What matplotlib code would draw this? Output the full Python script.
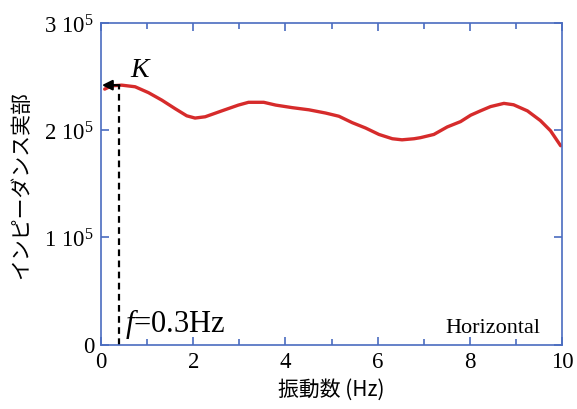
import numpy as np
import matplotlib.pyplot as plt
from matplotlib.ticker import MultipleLocator, FixedLocator

freq = [0.08, 0.23, 0.45, 0.74, 1.03, 1.32, 1.61, 1.86, 2.04, 2.26, 2.62, 2.98,
        3.20, 3.42, 3.53, 3.79, 4.15, 4.51, 4.87, 5.16, 5.45, 5.74, 6.03, 6.32,
        6.53, 6.79, 6.93, 7.22, 7.51, 7.80, 8.02, 8.23, 8.45, 8.74, 8.95, 9.25,
        9.53, 9.75, 9.97]
imp_real = [2.383e5, 2.414e5, 2.42e5, 2.405e5, 2.35e5, 2.28e5, 2.20e5, 2.134e5,
            2.113e5, 2.125e5, 2.18e5, 2.234e5, 2.26e5, 2.26e5, 2.26e5, 2.234e5,
            2.21e5, 2.19e5, 2.16e5, 2.13e5, 2.07e5, 2.02e5, 1.96e5, 1.92e5,
            1.91e5, 1.92e5, 1.93e5, 1.96e5, 2.03e5, 2.08e5, 2.14e5, 2.18e5,
            2.22e5, 2.25e5, 2.237e5, 2.18e5, 2.09e5, 1.995e5, 1.855e5]
f_mark = 0.38
k_val = 2.42e5
y_ticks = [0, 1e5, 2e5, 3e5]
y_labels = ["0", r"1 10$^5$", r"2 10$^5$", r"3 10$^5$"]

axis_col = "#4a6cc0"
serif = "Liberation Serif"
cjk = ["Noto Sans CJK JP", "DejaVu Sans"]
plt.rcParams["mathtext.fontset"] = "custom"
plt.rcParams["mathtext.rm"] = serif
plt.rcParams["mathtext.it"] = serif + ":italic"

fig = plt.figure(figsize=(5.77, 4.10), dpi=100)
ax = fig.add_axes([101 / 577, 1 - 345.5 / 410, 461 / 577, 321.5 / 410])

ax.plot(freq, imp_real, color="#d62b2b", lw=2.4, solid_capstyle="round",
        solid_joinstyle="round")

# dashed marker at f and arrow to the axis
ax.plot([f_mark, f_mark], [0, k_val], color="black", ls=(0, (3, 2)), lw=1.6)
ax.annotate("", xy=(0.02, k_val), xytext=(f_mark + 0.02, k_val),
            arrowprops=dict(arrowstyle="-|>", color="black", lw=1.6,
                            mutation_scale=15, shrinkA=0, shrinkB=0))
ax.text(0.64, 2.51e5, "K", fontsize=20, family=serif, style="italic")
ax.text(0.53, 0.13e5, r"$\mathit{f}$=0.3Hz", fontsize=22, family=serif)
ax.text(9.53, 0.12e5, "Horizontal", fontsize=16, family=serif, ha="right")

ax.set_xlim(0, 10)
ax.set_ylim(0, 3e5)
ax.xaxis.set_major_locator(MultipleLocator(2))
ax.xaxis.set_minor_locator(MultipleLocator(1))
ax.yaxis.set_major_locator(FixedLocator(y_ticks))
ax.set_yticklabels(y_labels)

for sp in ax.spines.values():
    sp.set_color(axis_col)
    sp.set_linewidth(1.2)
ax.tick_params(which="both", direction="in", top=True, right=True,
               color=axis_col, width=1.2, labelsize=16.5)
ax.tick_params(which="major", length=6, pad=5)
ax.tick_params(which="minor", length=4)
for lab in ax.get_xticklabels() + ax.get_yticklabels():
    lab.set_family(serif)

ax.set_xlabel("振動数 (Hz)", family=cjk, fontsize=15, labelpad=4)
ax.set_ylabel("インピーダンス実部", family=cjk, fontsize=15, labelpad=9)

fig.savefig("out.png", dpi=100)
